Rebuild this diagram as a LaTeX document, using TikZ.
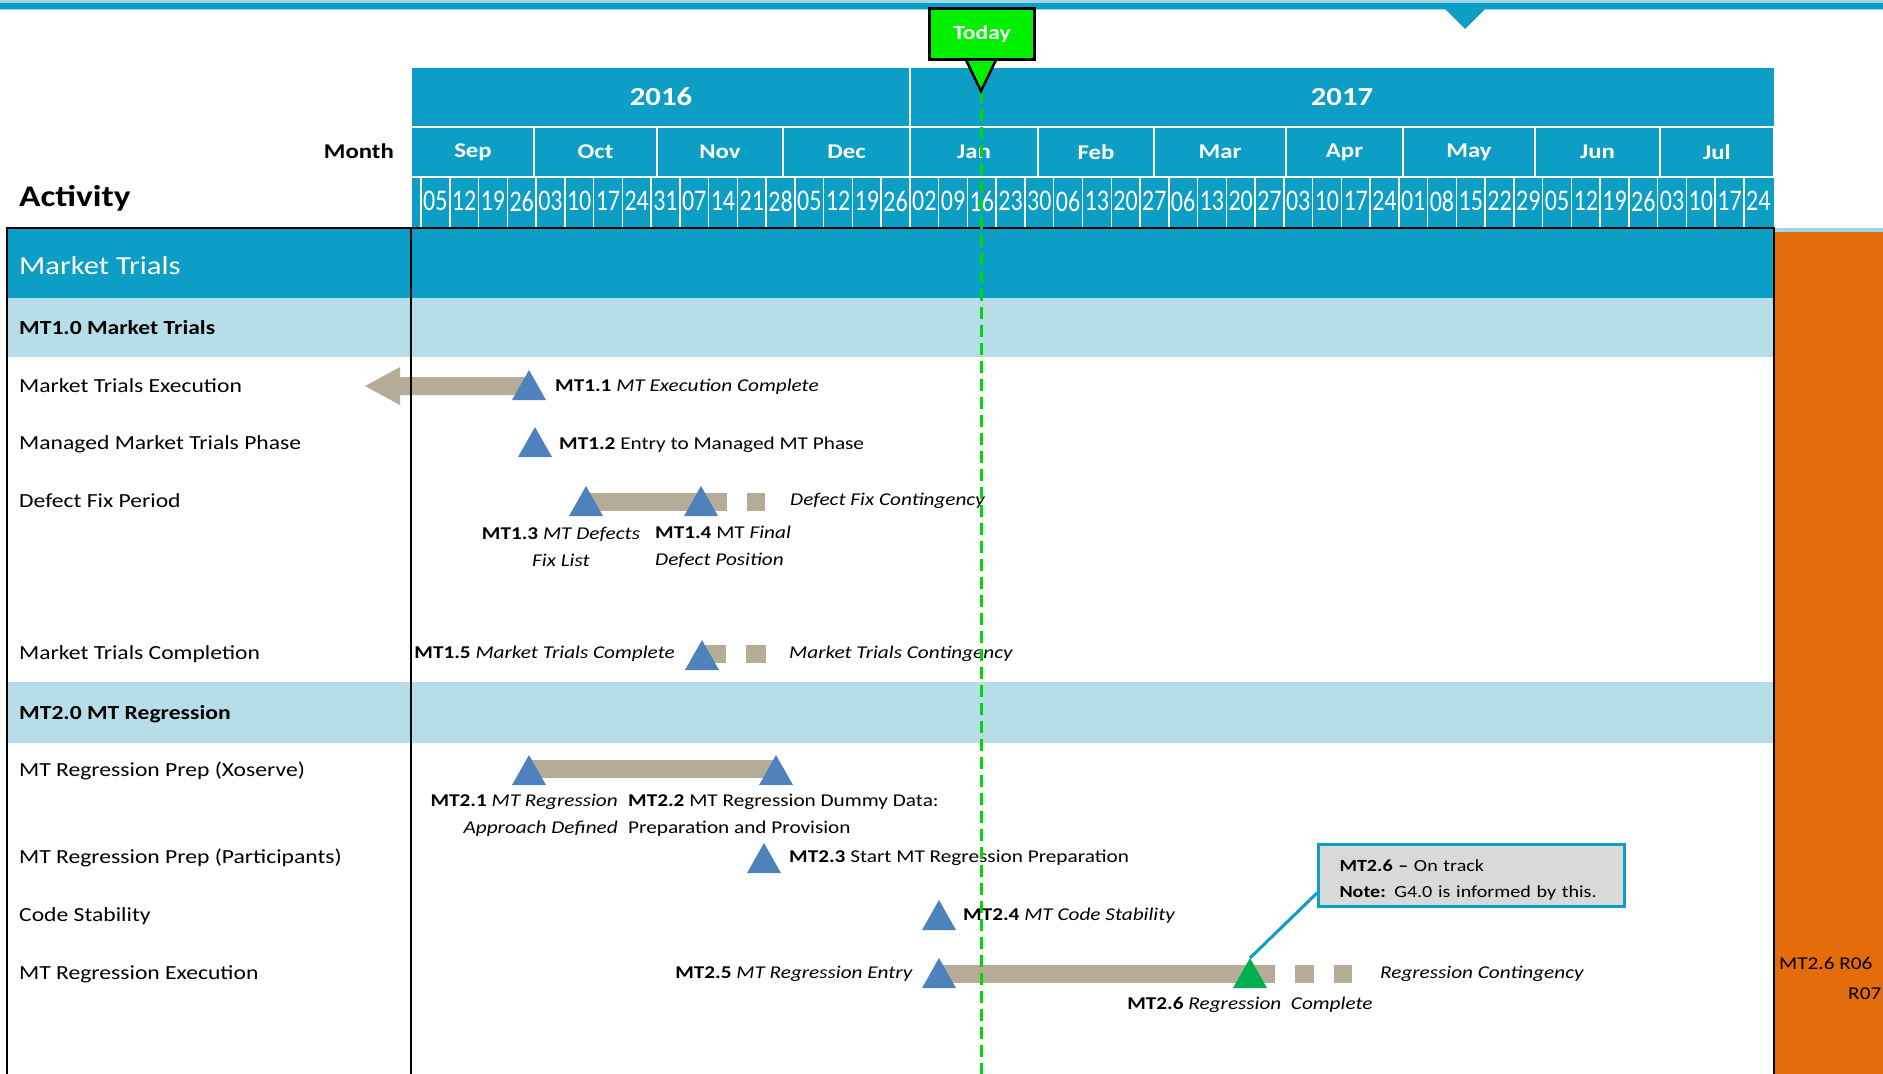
\documentclass[tikz,border=0pt]{standalone}
\usepackage{fontspec}
\setmainfont{Carlito}[FakeStretch=1.18]
\newfontfamily\weekfont{Carlito}[FakeStretch=0.8]
\usetikzlibrary{calc}
\definecolor{mtteal}{RGB}{12,158,196}
\definecolor{mtlight}{RGB}{183,222,232}
\definecolor{toplight}{RGB}{160,215,232}
\definecolor{mtorange}{RGB}{228,108,10}
\definecolor{mttan}{RGB}{180,172,150}
\definecolor{mtblue}{RGB}{79,129,189}
\definecolor{mtgreen}{RGB}{0,176,80}
\definecolor{todaygreen}{RGB}{0,240,0}
\definecolor{callgray}{RGB}{217,217,217}
\def\Top{228}
\def\Bot{1074}
\def\Lx{7}
\def\Cx{411}
\def\Rx{1774}
\def\Wx{421}
\def\Ww{28.76}
\tikzset{
  lbl/.style={anchor=mid west, inner sep=0pt, font=\fontsize{20}{24}\selectfont},
  mlbl/.style={inner sep=0pt, font=\fontsize{18}{27}\selectfont},
  hdr/.style={text=white, inner sep=0pt, font=\bfseries\fontsize{21}{24}\selectfont},
  bar/.style={fill=mttan},
}

\begin{document}
\begin{tikzpicture}[x=1pt,y=-1pt]
\useasboundingbox (0,0) rectangle (1883,1074);

\fill[toplight] (0,0) rectangle (1883,10);
\fill[mtteal] (0,2.5) rectangle (1883,8.5);
\fill[mtteal] (1444,8) -- (1486,8) -- (1465,29) -- cycle;

\fill[mtteal] (412,68) rectangle (\Rx,\Top);
\draw[white, line width=2pt] (412,127) -- (\Rx,127) (412,177) -- (\Rx,177) (910,68) -- (910,127);
\node[hdr, font=\bfseries\fontsize{26}{30}\selectfont] (y16) at (661,97) {2016};
\node[hdr, font=\bfseries\fontsize{26}{30}\selectfont] (y17) at (1342,97) {2017};
\foreach \m/\a/\b in {Sep/412/534,Oct/534/657,Nov/657/783,Dec/783/910,Jan/910/1038,Feb/1038/1154,Mar/1154/1286,Apr/1286/1403,May/1403/1535,Jun/1535/1660,Jul/1660/1774}{
  \draw[white, line width=2pt] (\b,127) -- (\b,177);
  \node[hdr] (mon\m) at ({(\a+\b)/2},152) {\m};
}
\foreach \w [count=\k from 0] in {05,12,19,26,03,10,17,24,31,07,14,21,28,05,12,19,26,02,09,16,23,30,06,13,20,27,06,13,20,27,03,10,17,24,01,08,15,22,29,05,12,19,26,03,10,17,24}{
  \draw[white, line width=1.5pt] ({\Wx+\Ww*\k},177) -- ({\Wx+\Ww*\k},\Top);
  \node[text=white, inner sep=0pt, font=\weekfont\fontsize{30}{32}\selectfont] (w\k) at ({\Wx+\Ww*(\k+0.5)},201) {\w};
}
\node[anchor=mid east, inner sep=0pt, font=\bfseries\fontsize{21}{24}\selectfont] (month) at (394,156) {Month};
\node[anchor=mid west, inner sep=0pt, font=\bfseries\fontsize{30}{34}\selectfont] (activity) at (19,204) {Activity};

\fill[mtteal] (\Lx,\Top) rectangle (\Rx,298);
\fill[mtlight] (\Lx,298) rectangle (\Rx,357);
\fill[mtlight] (\Lx,682) rectangle (\Rx,743);
\fill[toplight] (\Rx,228) rectangle (1883,232);
\fill[mtorange] (\Rx,232) rectangle (1883,1074);

\node[lbl, text=white, font=\fontsize{26}{30}\selectfont] (sec) at (19,272) {Market Trials};
\node[lbl, font=\bfseries\fontsize{20}{24}\selectfont] (g1) at (19,332) {MT1.0 Market Trials};
\node[lbl] (r11) at (19,390) {Market Trials Execution};
\node[lbl] (r12) at (19,447) {Managed Market Trials Phase};
\node[lbl] (r13) at (19,505) {Defect Fix Period};
\node[lbl] (r15) at (19,657) {Market Trials Completion};
\node[lbl, font=\bfseries\fontsize{20}{24}\selectfont] (g2) at (19,717) {MT2.0 MT Regression};
\node[lbl] (r21) at (19,774) {MT Regression Prep (Xoserve)};
\node[lbl] (r23) at (19,861) {MT Regression Prep (Participants)};
\node[lbl] (r24) at (19,919) {Code Stability};
\node[lbl] (r25) at (19,977) {MT Regression Execution};

\coordinate (m11) at (529,370);
\coordinate (m12) at (535,427);
\coordinate (m13) at (586,486);
\coordinate (m14) at (701,486);
\coordinate (m15) at (702,640);
\coordinate (m21) at (529,755);
\coordinate (m22) at (776,755);
\coordinate (m23) at (764,843);
\coordinate (m24) at (939,900);
\coordinate (m25) at (939,958);
\coordinate (m26) at (1250,958);

\fill[bar] ($(m11)+(0,7)$) -| (400,367) -- (365,386) -- (400,405) |- ($(m11)+(0,25)$) -- cycle;
\fill[bar] ($(m13)+(0,7)$) rectangle (727,511);
\fill[bar] (747,493) rectangle (765,511);
\fill[bar] ($(m15)+(0,5)$) rectangle (726,663);
\fill[bar] (746,645) rectangle (766,663);
\fill[bar] ($(m21)+(0,5)$) rectangle ($(m22)+(0,23)$);
\fill[bar] ($(m25)+(0,7)$) rectangle (1275,983);
\fill[bar] (1295,965) rectangle (1314,983);
\fill[bar] (1334,965) rectangle (1352,983);

\foreach \p in {m11,m12,m13,m14,m15,m21,m22,m23,m24,m25}
  \fill[mtblue] (\p) -- ++(-17,30) -- ++(34,0) -- cycle;
\fill[mtgreen] (m26) -- ++(-17,30) -- ++(34,0) -- cycle;

\node[mlbl, anchor=mid west] (l11) at (555,389) {\textbf{MT1.1} \textit{MT Execution Complete}};
\node[mlbl, anchor=mid west] (l12) at (559,447) {\textbf{MT1.2} Entry to Managed MT Phase};
\node[mlbl, anchor=mid west] (c13) at (790,503) {\textit{Defect Fix Contingency}};
\node[mlbl, align=center] (l13) at (561,547) {\textbf{MT1.3} \textit{MT Defects}\\\textit{Fix List}};
\node[mlbl, align=left, anchor=west] (l14) at (655,547) {\textbf{MT1.4} MT \textit{Final}\\\textit{Defect Position}};
\node[mlbl, anchor=mid east] (l15) at (675,656) {\textbf{MT1.5} \textit{Market Trials Complete}};
\node[mlbl, anchor=mid west] (c15) at (789,656) {\textit{Market Trials Contingency}};
\node[mlbl, align=right, anchor=east] (l21) at (618,815) {\textbf{MT2.1} \textit{MT Regression}\\\textit{Approach Defined}};
\node[mlbl, align=left, anchor=west] (l22) at (628,815) {\textbf{MT2.2} MT Regression Dummy Data:\\Preparation and Provision};
\node[mlbl, anchor=mid west] (l23) at (789,860) {\textbf{MT2.3} Start MT Regression Preparation};
\node[mlbl, anchor=mid west] (l24) at (963,918) {\textbf{MT2.4} \textit{MT Code Stability}};
\node[mlbl, anchor=mid east] (l25) at (913,976) {\textbf{MT2.5} \textit{MT Regression Entry}};
\node[mlbl, anchor=mid west] (c25) at (1380,976) {\textit{Regression Contingency}};
\node[mlbl, anchor=mid] (l26) at (1250,1007) {\textbf{MT2.6} \textit{Regression\ \ Complete}};

\node[draw=mtteal, line width=3pt, fill=callgray, anchor=north west, minimum width=306pt, minimum height=62pt, inner xsep=21pt, inner ysep=0pt, text width=264pt, align=left, font=\fontsize{17}{26}\selectfont] (callout) at (1317,843) {\rule{0pt}{20pt}\textbf{MT2.6 –} On track\\\textbf{Note:} G4.0 is informed by this.};
\draw[mtteal, line width=3pt] ([yshift=15pt]callout.south west) -- (m26);

\begin{scope}
\clip (\Rx,232) rectangle (1883,1074);
\node[mlbl, anchor=mid west] (o1) at (1779,967) {MT2.6 R06};
\node[mlbl, anchor=mid west] (o2) at (1848,997) {R07};
\end{scope}

\draw[black, line width=1.5pt] (\Lx,\Bot) -- (\Lx,\Top) -- (\Rx,\Top) -- (\Rx,\Bot);
\draw[black, line width=1.2pt] (\Cx,\Top) -- (\Cx,\Bot);

\coordinate (tip) at (981,91);
\coordinate (lineend) at (981,1074);
\draw[todaygreen!90!black, line width=3pt, dash pattern=on 12pt off 6pt] (tip) -- (lineend);
\fill[todaygreen] (966,60) -- (tip) -- (996,60) -- cycle;
\draw[black, line width=2.5pt] (966,60) -- (tip) -- (996,60);
\node[fill=todaygreen, draw=black, line width=3pt, minimum width=105pt, minimum height=51pt, inner sep=0pt, text=white, font=\bfseries\fontsize{20}{24}\selectfont] (today) at (982,34) {Today};
\end{tikzpicture}
\end{document}
